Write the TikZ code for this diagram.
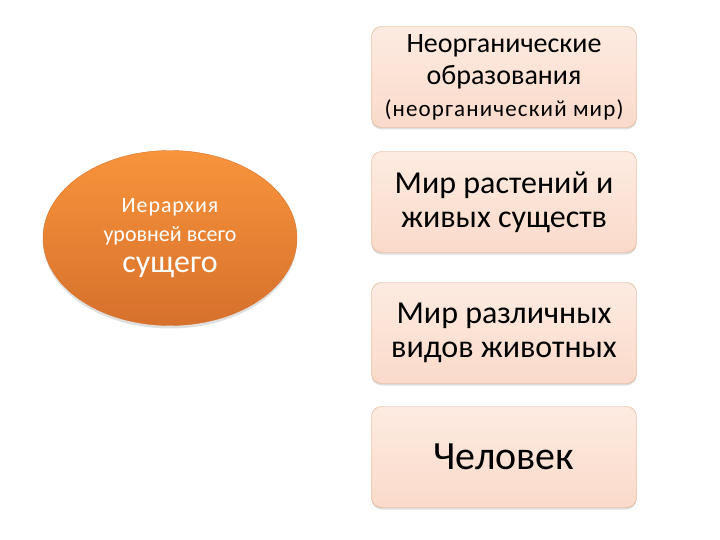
\documentclass[tikz,border=0pt]{standalone}
\usepackage{fontspec}
\setmainfont{Carlito}
\usetikzlibrary{shapes,shadows}
\definecolor{boxtop}{HTML}{FDEBE1}
\definecolor{boxbot}{HTML}{FADACA}
\definecolor{boxline}{HTML}{E2AC88}
\definecolor{ovtop}{HTML}{F8943C}
\definecolor{ovbot}{HTML}{D6702C}

\begin{document}
\begin{tikzpicture}[x=1pt, y=-1pt,
    lvl/.style={draw=boxline, rounded corners=10pt, top color=boxtop, bottom color=boxbot,
                minimum width=265pt, minimum height=101pt, align=center, inner sep=0pt,
                font=\fontsize{32}{34}\selectfont,
                drop shadow={shadow xshift=0pt, shadow yshift=-2pt, opacity=0.25}},
    hub/.style={ellipse, draw=ovbot!90!ovtop, top color=ovtop, bottom color=ovbot,
                minimum width=254pt, minimum height=175pt, align=center, text=white, inner sep=0pt,
                font=\fontsize{22}{29}\selectfont,
                drop shadow={shadow xshift=0pt, shadow yshift=-3pt, opacity=0.25}}]
  \useasboundingbox (0,0) rectangle (720,540);

  \node[hub] (h) at (170,238) {\addfontfeature{LetterSpace=4}Иерархия\\ уровней всего\\[2pt]
                               \fontsize{32}{30}\selectfont сущего};

  \node[lvl, font=\fontsize{28}{32}\selectfont] (l1) at (504,77)
       {Неорганические\\ образования\\
        \fontsize{23}{33}\selectfont\addfontfeature{LetterSpace=5}(неорганический мир)};
  \node[lvl] (l2) at (504,202) {Мир растений и\\ живых существ};
  \node[lvl] (l3) at (504,333) {Мир различных\\ видов животных};
  \node[lvl, font=\fontsize{40}{44}\selectfont] (l4) at (504,457) {Человек};
\end{tikzpicture}
\end{document}
